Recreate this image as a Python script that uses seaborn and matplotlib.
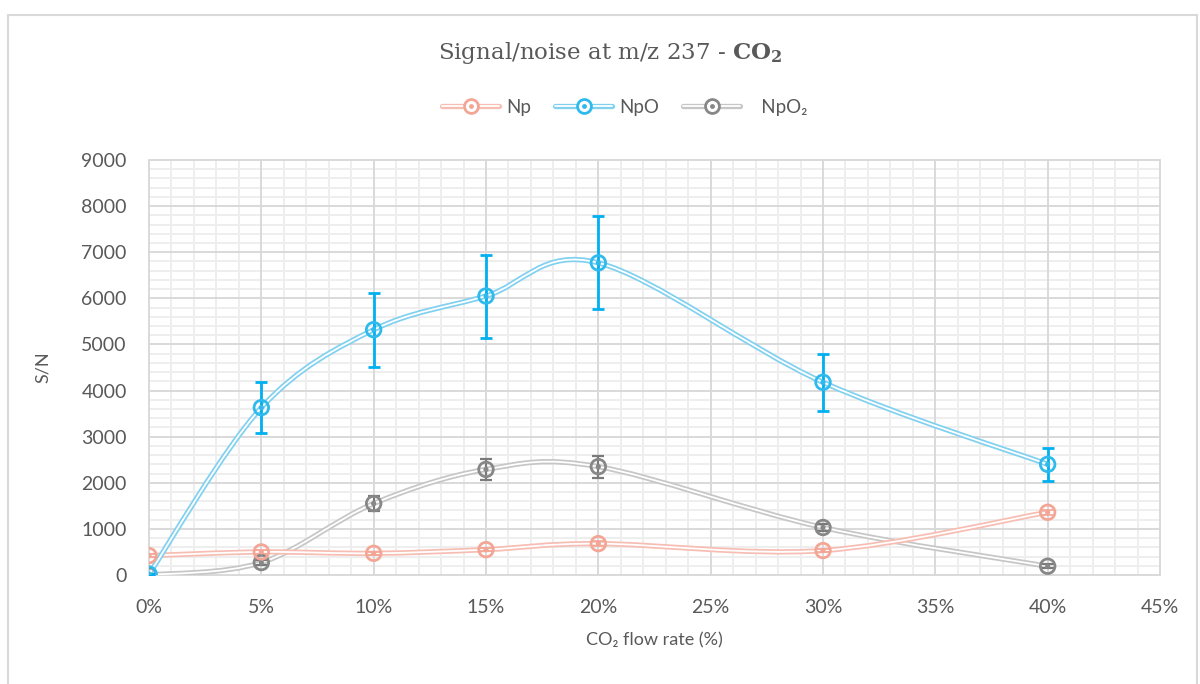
import numpy as np
import pandas as pd
import matplotlib
matplotlib.use("Agg")
import matplotlib.pyplot as plt
import seaborn as sns
from matplotlib.path import Path
from matplotlib.patches import PathPatch, Rectangle
from matplotlib.lines import Line2D
from matplotlib.legend_handler import HandlerTuple
from matplotlib.ticker import FixedLocator, FuncFormatter

# ---- data ----
flow = [0, 5, 10, 15, 20, 30, 40]
np_vals = [420, 500, 470, 550, 680, 530, 1360]
np_err = [30, 40, 30, 40, 50, 30, 60]
npo_vals = [20, 3630, 5320, 6050, 6770, 4180, 2400]
npo_err = [0, 550, 800, 900, 1010, 620, 360]
npo2_vals = [0, 270, 1550, 2290, 2350, 1030, 190]
npo2_err = [0, 60, 170, 230, 240, 70, 40]
series_names = ["Np", "NpO", "NpO\u2082"]
legend_labels = ["Np", "NpO", "   NpO\u2082"]
x_ticks = [0, 5, 10, 15, 20, 25, 30, 35, 40, 45]
y_ticks = [0, 1000, 2000, 3000, 4000, 5000, 6000, 7000, 8000, 9000]

sns.set_theme(style="white")
plt.rcParams['font.family'] = ['Lato', 'DejaVu Sans']
plt.rcParams['mathtext.fontset'] = 'custom'
plt.rcParams['mathtext.bf'] = 'DejaVu Serif:bold'
plt.rcParams['mathtext.rm'] = 'DejaVu Serif'

TXT = '#595959'
styles = {
    "Np": dict(line='#F7BDB2', mark='#F4A696', err='#F4A696', elw=1.2),
    "NpO": dict(line='#80D0F0', mark='#2FBAEE', err='#00B0F0', elw=2.0),
    "NpO\u2082": dict(line='#C6C6C6', mark='#878787', err='#7A7A7A', elw=1.6),
}

df = pd.DataFrame({
    "flow": flow * 3,
    "value": np_vals + npo_vals + npo2_vals,
    "err": np_err + npo_err + npo2_err,
    "series": sum([[n] * len(flow) for n in series_names], []),
})

fig = plt.figure(figsize=(12, 6.84), dpi=100)
ax = fig.add_axes([149 / 1200, 1 - 575 / 684, (1160 - 149) / 1200, (575 - 160) / 684])

def smooth_path(xs, ys):
    pts = np.column_stack([xs, ys]).astype(float)
    n = len(pts)
    verts = [pts[0]]
    codes = [Path.MOVETO]
    for i in range(n - 1):
        p_prev = pts[i - 1] if i > 0 else pts[i]
        p0 = pts[i]
        p1 = pts[i + 1]
        p_next = pts[i + 2] if i + 2 < n else pts[i + 1]
        c1 = p0 + (p1 - p_prev) / 6.0
        c2 = p1 - (p_next - p0) / 6.0
        verts += [c1, c2, p1]
        codes += [Path.CURVE4] * 3
    return Path(verts, codes)

# grid: minor (no overlap with majors), then majors on top
ax.set_xlim(0, 45)
ax.set_ylim(0, 9000)
ax.set_xticks(x_ticks)
ax.set_yticks(y_ticks)
ax.xaxis.set_minor_locator(FixedLocator([v for v in range(0, 46) if v % 5]))
ax.yaxis.set_minor_locator(FixedLocator([v for v in range(0, 9001, 200) if v % 1000]))
ax.grid(which='minor', color='#EEEEEE', lw=1.4)
ax.grid(which='major', visible=False)
ax.set_axisbelow(True)
for xv in x_ticks:
    ax.axvline(xv, color='#D9D9D9', lw=1.4, zorder=1, clip_on=False)
for yv in y_ticks:
    ax.axhline(yv, color='#D9D9D9', lw=1.4, zorder=1, clip_on=False)

z = {"Np": 3, "NpO": 4, "NpO\u2082": 2}
for name in series_names:
    sub = df[df.series == name]
    st = styles[name]
    path = smooth_path(sub.flow.values, sub.value.values)
    ax.add_patch(PathPatch(path, facecolor='none', edgecolor=st['line'], lw=3.8, zorder=z[name]))
    ax.add_patch(PathPatch(path, facecolor='none', edgecolor='white', lw=1.3, zorder=z[name] + 0.1))

for name in series_names:
    sub = df[df.series == name]
    st = styles[name]
    ax.errorbar(sub.flow, sub.value, yerr=sub.err, fmt='none', ecolor=st['err'],
                elinewidth=st['elw'], capsize=4.5, capthick=st['elw'], zorder=z[name] + 5)

for name in series_names:
    sub = df[df.series == name]
    st = styles[name]
    sns.scatterplot(x=sub.flow, y=sub.value, ax=ax, marker='o', s=110, facecolor='none',
                    edgecolor=st['mark'], linewidth=2.0, zorder=z[name] + 6, legend=False)
    sns.scatterplot(x=sub.flow, y=sub.value, ax=ax, marker='o', s=14, color=st['mark'],
                    edgecolor='none', zorder=z[name] + 6.1, legend=False)

ax.set_xlim(0, 45)
ax.set_ylim(0, 9000)
ax.xaxis.set_major_formatter(FuncFormatter(lambda v, p: f"{int(v)}%"))
for s in ax.spines.values():
    s.set_visible(False)
ax.tick_params(axis='both', which='both', length=0, labelsize=14, labelcolor=TXT)
ax.tick_params(axis='y', pad=16)
ax.tick_params(axis='x', pad=17)
ax.set_xlabel("CO\u2082 flow rate (%)", fontsize=13, color=TXT, labelpad=12)
ax.set_ylabel("S/N", fontsize=13, color=TXT, labelpad=22)

fig.text(610 / 1200, 1 - 53 / 684, r"Signal/noise at m/z 237 - $\mathbf{CO_2}$",
         ha='center', va='center', fontsize=16.5, color=TXT, family='DejaVu Serif')

handles = []
for name in series_names:
    st = styles[name]
    h1 = Line2D([], [], color=st['line'], lw=3.8)
    h2 = Line2D([], [], color='white', lw=1.3)
    h3 = Line2D([], [], ls='none', marker='o', ms=10, mfc='white', mec=st['mark'], mew=2.0)
    h4 = Line2D([], [], ls='none', marker='o', ms=3.5, mfc=st['mark'], mec='none')
    handles.append((h1, h2, h3, h4))
leg = fig.legend(handles, legend_labels, loc='center', bbox_to_anchor=(625 / 1200, 1 - 107 / 684),
                 ncol=3, frameon=False, fontsize=13.5, handlelength=3.0, columnspacing=1.3,
                 handletextpad=0.4, handler_map={tuple: HandlerTuple(ndivide=1, pad=0)})
for t in leg.get_texts():
    t.set_color(TXT)

fig.patches.append(Rectangle((8 / 1200, -0.1), (1197 - 8) / 1200, 1.1 - 15 / 684,
                             transform=fig.transFigure, fill=False, edgecolor='#D9D9D9', lw=1.5))

fig.savefig("out.png", dpi=100)
